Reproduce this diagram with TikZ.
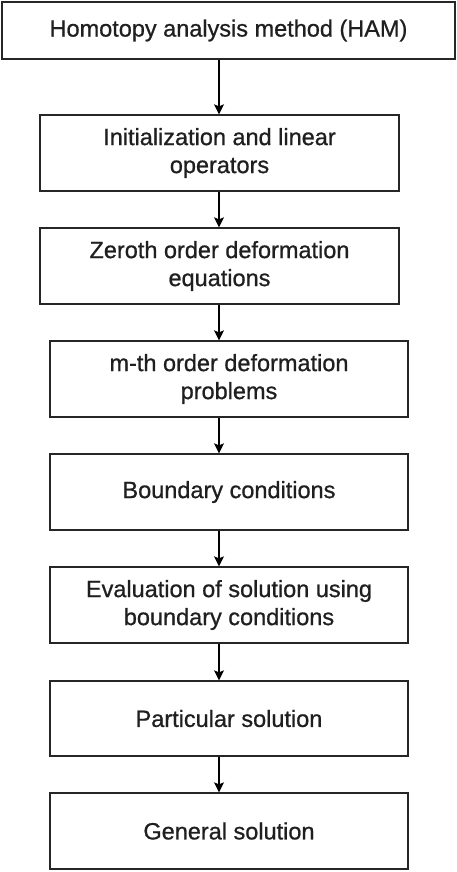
\documentclass[tikz,border=0pt]{standalone}
\usepackage{fontspec}
\setmainfont[FakeBold=0.8]{Liberation Sans}
\usetikzlibrary{arrows.meta}
\begin{document}
\begin{tikzpicture}[x=1pt,y=-1pt,
  box/.style={draw=black!85, line width=1.3pt, fill=white, font=\fontsize{23.5}{28}\selectfont, text=black!88, align=center},
  arr/.style={draw=black, line width=1.3pt, -{Stealth[length=10pt,width=10pt,inset=2pt]}}]
\useasboundingbox (0,0) rectangle (457,872);
\newcommand{\bx}[6]{\node[box, minimum width=#4-#2, minimum height=#5-#3, inner sep=0pt] (#1) at ({(#2+#4)/2},{(#3+#5)/2}) {#6};}
\bx{b1}{2}{2}{455}{59}{Homotopy analysis method (HAM)}
\bx{b2}{40}{115}{399}{191}{Initialization and linear\\operators}
\bx{b3}{40}{228}{399}{304}{Zeroth order deformation\\equations}
\bx{b4}{50}{341}{408}{417}{m-th order deformation\\problems}
\bx{b5}{50}{454}{408}{530}{Boundary conditions}
\bx{b6}{50}{567}{408}{643}{Evaluation of solution using\\boundary conditions}
\bx{b7}{50}{681}{408}{756}{Particular solution}
\bx{b8}{50}{793}{408}{869}{General solution}
\foreach \a/\b in {b1/b2,b2/b3,b3/b4,b4/b5,b5/b6,b6/b7,b7/b8}
  \draw[arr] (219,0 |- \a.south) -- (219,0 |- \b.north);
\end{tikzpicture}
\end{document}
